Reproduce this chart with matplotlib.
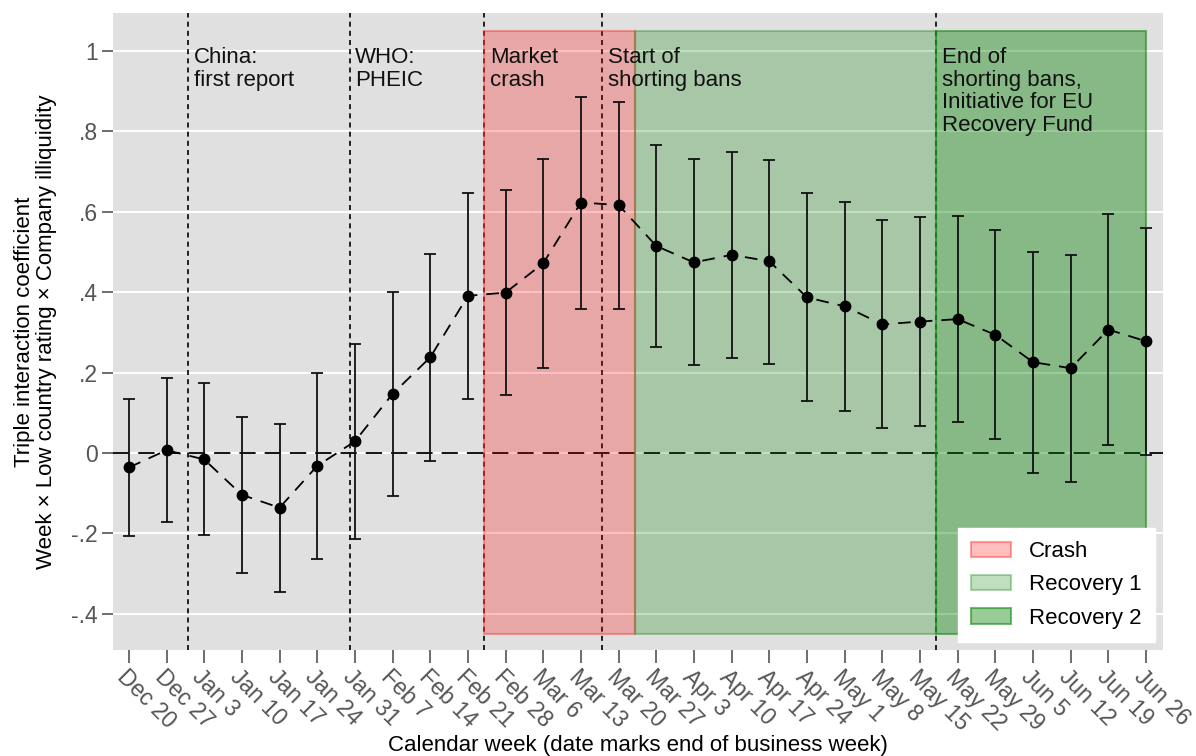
import matplotlib
matplotlib.use("Agg")
import matplotlib.pyplot as plt
from matplotlib.patches import Patch, Rectangle
import numpy as np

plt.rcParams['font.family'] = ['Liberation Sans', 'DejaVu Sans']

weeks = ["Dec 20", "Dec 27", "Jan 3", "Jan 10", "Jan 17", "Jan 24", "Jan 31",
         "Feb 7", "Feb 14", "Feb 21", "Feb 28", "Mar 6", "Mar 13", "Mar 20",
         "Mar 27", "Apr 3", "Apr 10", "Apr 17", "Apr 24", "May 1", "May 8",
         "May 15", "May 22", "May 29", "Jun 5", "Jun 12", "Jun 19", "Jun 26"]
coef = [-0.036, 0.007, -0.016, -0.104, -0.136, -0.032, 0.029, 0.147, 0.238,
        0.391, 0.399, 0.472, 0.623, 0.617, 0.515, 0.474, 0.493, 0.477, 0.387,
        0.365, 0.320, 0.327, 0.333, 0.294, 0.226, 0.211, 0.307, 0.278]
upper = [0.135, 0.187, 0.174, 0.090, 0.073, 0.200, 0.272, 0.400, 0.494,
         0.648, 0.655, 0.731, 0.885, 0.874, 0.766, 0.731, 0.750, 0.730, 0.646,
         0.625, 0.579, 0.587, 0.590, 0.555, 0.499, 0.493, 0.595, 0.560]
lower = [-0.207, -0.171, -0.203, -0.298, -0.345, -0.264, -0.213, -0.106, -0.019,
         0.135, 0.144, 0.211, 0.358, 0.358, 0.263, 0.218, 0.237, 0.222, 0.129,
         0.104, 0.062, 0.068, 0.077, 0.036, -0.049, -0.071, 0.020, -0.004]

# events (fractional week positions: day within week / 7)
event_pos = [1 + 4/7, 6 - 1/7, 9 + 3/7, 12 + 4/7, 21 + 3/7]
event_text = ["China:\nfirst report", "WHO:\nPHEIC", "Market\ncrash",
              "Start of\nshorting bans",
              "End of\nshorting bans,\nInitiative for EU\nRecovery Fund"]

# periods
period_names = ["Crash", "Recovery 1", "Recovery 2"]
period_start = [9 + 3/7, 13 + 3/7, 21 + 3/7]
period_end = [13 + 3/7, 21 + 3/7, 27]
period_fill = [(1, 0, 0, 0.25), (0, 0.5, 0, 0.25), (0, 0.5, 0, 0.40)]
period_edge = [(1, 0.2, 0.2, 0.45), (0.1, 0.55, 0.1, 0.35), (0.1, 0.55, 0.1, 0.6)]
rect_bottom, rect_top = -0.45, 1.05

yticks = [-0.4, -0.2, 0, 0.2, 0.4, 0.6, 0.8, 1.0]
yticklabels = ["-.4", "-.2", "0", ".2", ".4", ".6", ".8", "1"]

fig = plt.figure(figsize=(11.96, 7.56), dpi=100)
ax = fig.add_axes([0.0945, 0.1402, 0.8779, 0.8426])
ax.set_facecolor('#e0e0e0')
for s in ax.spines.values():
    s.set_visible(False)

x = np.arange(len(weeks))
ax.set_xlim(-0.42, 27.45)
ax.set_ylim(-0.49, 1.0945)

ax.set_yticks(yticks)
ax.set_yticklabels(yticklabels)
ax.yaxis.grid(True, color='white', linewidth=1.5, zorder=0)
ax.set_axisbelow(True)

ax.axhline(0, color='black', linewidth=1.3, linestyle=(0, (9, 5)), zorder=1)
for p in event_pos:
    ax.axvline(p, color='black', linewidth=1.2, linestyle=(0, (3, 2.5)), zorder=1)

handles = []
for name, a, b, fc, ec in zip(period_names, period_start, period_end, period_fill, period_edge):
    ax.add_patch(Rectangle((a, rect_bottom), b - a, rect_top - rect_bottom,
                           facecolor=fc, edgecolor=ec, linewidth=1.5, zorder=2))
    handles.append(Patch(facecolor=fc, edgecolor=ec, linewidth=1.5, label=name))

coef_a = np.array(coef)
yerr = [coef_a - np.array(lower), np.array(upper) - coef_a]
ax.errorbar(x, coef, yerr=yerr, fmt='none', ecolor='#111111', elinewidth=1.3,
            capsize=4, capthick=1.3, zorder=4)
ax.plot(x, coef, color='black', linewidth=1.3, linestyle=(0, (7, 5)),
        marker='o', markersize=7.5, zorder=5)

for p, t in zip(event_pos, event_text):
    ax.text(p + 0.15, 1.01, t, fontsize=16, va='top', ha='left',
            linespacing=1.1, color='#111111', zorder=6)

ax.set_xticks(x)
ax.set_xticklabels(weeks, rotation=-45, ha='left', va='top',
                   rotation_mode='anchor', fontsize=16.5, color='#555555')
ax.tick_params(axis='x', length=9, width=1.2, color='#555555', pad=2)
ax.tick_params(axis='y', length=8, width=1.2, color='#555555', labelsize=16.5,
               labelcolor='#555555', pad=3)

ax.set_xlabel("Calendar week (date marks end of business week)", fontsize=16,
              va='center')
ax.xaxis.set_label_coords(0.5, (650 - 745) / 637)
ax.set_ylabel("Triple interaction coefficient\nWeek × Low country rating × Company illiquidity",
              fontsize=16, labelpad=10, linespacing=1.1)

leg = ax.legend(handles=handles, loc='lower right', fontsize=16, frameon=True,
                fancybox=False, framealpha=1, edgecolor='white',
                handlelength=1.8, handleheight=0.7, labelspacing=0.55,
                borderpad=0.6, handletextpad=0.8, bbox_to_anchor=(1, 0),
                borderaxespad=0.36)
leg.set_zorder(10)

fig.savefig("out.png", dpi=100)
